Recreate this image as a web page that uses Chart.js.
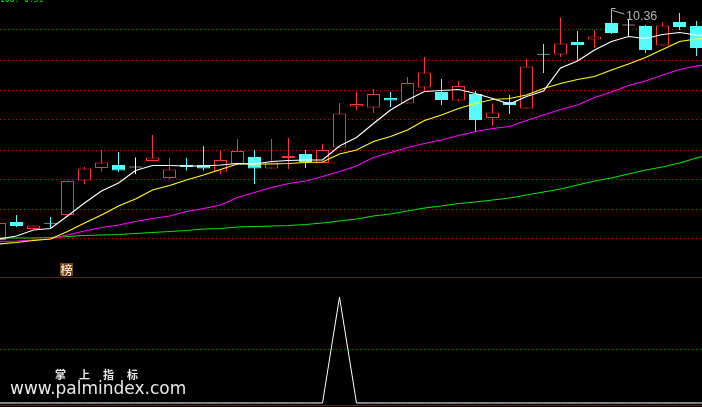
<!DOCTYPE html>
<html><head><meta charset="utf-8">
<script src="https://cdn.jsdelivr.net/npm/chart.js@4"></script>
<style>
html,body{margin:0;padding:0;background:#000;width:702px;height:407px;overflow:hidden}
canvas{position:absolute;left:0;top:0}
.t{position:absolute;white-space:nowrap;line-height:1}
</style></head><body>
<div style="position:absolute;left:0;top:0;width:702px;height:277px"><canvas id="top"></canvas></div>
<div style="position:absolute;left:0;top:277px;width:702px;height:130px"><canvas id="bot"></canvas></div>
<span class="t" style="left:0;top:-5px;color:#00e600;font:8px 'DejaVu Sans Mono',monospace">100: 0.51</span>
<span class="t" style="left:626px;top:9px;color:#b4b4b4;font:12.5px 'Liberation Sans',sans-serif">10.36</span>
<span class="t" style="left:60px;top:263px;width:13px;height:13px;background:#7a4310;color:#fff;font:12px/13px 'Noto Sans CJK SC',sans-serif;text-align:center">榜</span>
<span class="t" style="left:55px;top:366px;color:#e8e8e8;font:bold 11px 'Noto Sans CJK SC',sans-serif;letter-spacing:13px">掌上指标</span>
<span class="t" style="left:10px;top:378px;color:#e8e8e8;font:17px 'DejaVu Sans',sans-serif">www.palmindex.com</span>
<script>
// Price scale: every candle is [open, close, high, low] in price units.
const opens = [5.76,6.12,5.98,6.10,6.26,6.95,7.20,7.26,7.22,7.34,7.00,7.26,7.26,7.13,7.28,7.42,7.19,7.40,7.48,7.30,7.61,8.43,8.41,8.60,8.49,8.81,8.72,8.55,8.68,8.20,8.52,8.39,9.48,9.47,9.72,9.77,10.10,10.06,10.04,9.65,10.12,10.04];
const closes= [6.10,6.04,6.05,6.09,6.94,7.19,7.31,7.15,7.22,7.41,7.17,7.22,7.19,7.36,7.54,7.19,7.31,7.44,7.32,7.56,8.29,8.48,8.68,8.55,8.90,9.11,8.56,8.84,8.16,8.31,8.46,9.23,9.47,9.69,9.66,9.83,9.90,10.06,9.56,10.05,10.02,9.60];
const highs = [6.10,6.26,6.05,6.22,6.94,7.22,7.56,7.52,7.41,7.86,7.40,7.40,7.64,7.54,7.78,7.56,7.78,7.80,7.56,7.68,8.50,8.72,8.78,8.72,9.02,9.42,8.98,8.94,8.74,8.49,8.66,9.38,9.68,10.21,9.94,9.96,10.36,10.18,10.06,10.12,10.30,10.14];
const lows  = [5.76,6.02,5.98,6.00,6.26,6.88,7.13,7.12,7.08,7.34,6.98,7.15,7.15,7.08,7.28,6.88,7.19,7.18,7.20,7.30,7.61,8.36,8.30,8.42,8.49,8.76,8.46,8.53,7.94,8.04,8.28,8.39,9.10,9.42,9.34,9.60,9.88,9.82,9.50,9.65,9.96,9.44];
const ma5   = [5.78,5.84,5.96,5.99,6.24,6.50,6.74,6.90,7.15,7.25,7.25,7.24,7.24,7.26,7.29,7.28,7.33,7.35,7.36,7.36,7.64,7.81,8.09,8.36,8.56,8.73,8.75,8.77,8.69,8.59,8.48,8.63,8.74,9.20,9.34,9.56,9.73,9.83,9.79,9.87,9.91,9.86,9.84];
const ma10  = [5.68,5.71,5.75,5.78,5.93,6.10,6.26,6.44,6.58,6.76,6.85,6.96,7.06,7.17,7.28,7.28,7.28,7.29,7.31,7.32,7.48,7.56,7.73,7.83,7.96,8.15,8.26,8.39,8.49,8.57,8.59,8.66,8.79,8.89,8.97,9.03,9.16,9.28,9.41,9.57,9.73,9.78,9.80];
const ma30  = [5.73,5.74,5.76,5.78,5.86,5.94,6.01,6.06,6.13,6.19,6.24,6.33,6.39,6.46,6.61,6.71,6.81,6.89,6.94,7.03,7.13,7.24,7.41,7.51,7.61,7.69,7.76,7.85,7.93,7.99,8.03,8.15,8.26,8.37,8.46,8.61,8.72,8.85,8.94,9.06,9.17,9.24,9.30];
const ma60  = [5.80,5.80,5.80,5.81,5.83,5.85,5.86,5.87,5.89,5.91,5.93,5.95,5.98,5.99,6.02,6.03,6.04,6.05,6.07,6.10,6.14,6.18,6.24,6.28,6.34,6.40,6.44,6.49,6.52,6.56,6.60,6.66,6.72,6.78,6.86,6.94,7.00,7.08,7.16,7.22,7.30,7.40,7.48];
const signal= [0,0,0,0,0,0,0,0,0,0,0,0,0,0,0,0,0,0,0,0,100,0,0,0,0,0,0,0,0,0,0,0,0,0,0,0,0,0,0,0,0,0,0];
const priceGrid = [9.96,9.36,8.76,8.16,7.56,6.96,6.38,5.78];
const signalGrid = [50];
const peakIndex = 36;
const dojiPad = 0.012;

const RED='#ff3232',CYAN='#54fcfc',WHITE='#ffffff';
const idx = opens.map((_,i)=>i);
const colorOf = i => closes[i]>opens[i] ? RED : closes[i]<opens[i] ? CYAN : WHITE;
const bodyOf = i => {
  const lo=Math.min(opens[i],closes[i]), hi=Math.max(opens[i],closes[i]);
  const mid=(lo+hi)/2;
  return hi-lo<2*dojiPad ? [mid-dojiPad,mid+dojiPad] : [lo,hi];
};
const pts = a => a.map((v,i)=>({x:i,y:v}));
const lineDs = (a,c,o,w) => ({type:'line',data:pts(a),borderColor:c,borderWidth:w||1.2,pointRadius:0,tension:0,order:o});
const xScale = () => ({type:'linear',display:false,offset:false,min:0.5/17,max:702.5/17,grid:{display:false}});
const gridOf = (list) => ({
  display:true,position:'right',
  border:{display:false,dash:[1,3]},
  grid:{color:'#c00000',lineWidth:1,drawTicks:false},
  ticks:{display:false},
  afterFit:s=>{s.width=0},
  afterBuildTicks:s=>{s.ticks=list.map(v=>({value:v}))}
});
const plugins = {legend:{display:false},tooltip:{enabled:false}};
function mk(id,w,h){const c=document.getElementById(id);c.width=w;c.height=h;c.style.width=w+'px';c.style.height=h+'px';return c;}

new Chart(mk('top',702,277),{
  type:'bar',
  data:{datasets:[
    lineDs(ma5,WHITE,1),lineDs(ma10,'#ffff00',2),lineDs(ma30,'#ff00ff',3),lineDs(ma60,'#00e600',4),
    {type:'bar',order:5,grouped:false,inflateAmount:0,data:idx.map(i=>({x:i,y:bodyOf(i)})),
     barThickness:13,borderSkipped:false,borderWidth:1,
     borderColor:idx.map(colorOf),
     backgroundColor:idx.map(i=>closes[i]>opens[i]&&closes[i]-opens[i]>=2*dojiPad?'#000':colorOf(i))},
    {type:'bar',order:6,grouped:false,inflateAmount:0,data:idx.map(i=>({x:i,y:[lows[i],highs[i]]})),
     barThickness:1,borderWidth:0,backgroundColor:idx.map(colorOf)}
  ]},
  options:{responsive:false,animation:false,layout:{padding:0},plugins,scales:{x:xScale(),y:{...gridOf(priceGrid),min:5.02,max:10.56}}},
  plugins:[{id:'peak',afterDraw(ch){
    const g=ch.ctx,px=ch.scales.x.getPixelForValue(peakIndex),py=ch.scales.y.getPixelForValue(highs[peakIndex]);
    g.save();g.strokeStyle='#b4b4b4';g.lineWidth=1;g.beginPath();
    g.moveTo(px,py+5);g.lineTo(px,py-1.5);g.lineTo(px+4,py-1.5);
    g.moveTo(px+1,py+0.5);g.lineTo(px+13,py+4);g.stroke();g.restore();
  }}]
});
new Chart(mk('bot',702,130),{
  type:'line',
  data:{datasets:[lineDs(signal,WHITE,1,1)]},
  options:{responsive:false,animation:false,layout:{padding:0},plugins,
    scales:{x:xScale(),y:{...gridOf(signalGrid),min:-3.8,max:118.9}}},
  plugins:[{id:'frame',beforeDraw(ch){const g=ch.ctx;g.save();g.fillStyle='#a00000';g.fillRect(0,0,702,1);g.fillRect(0,128,702,1);g.restore();}}]
});
</script>
</body></html>
